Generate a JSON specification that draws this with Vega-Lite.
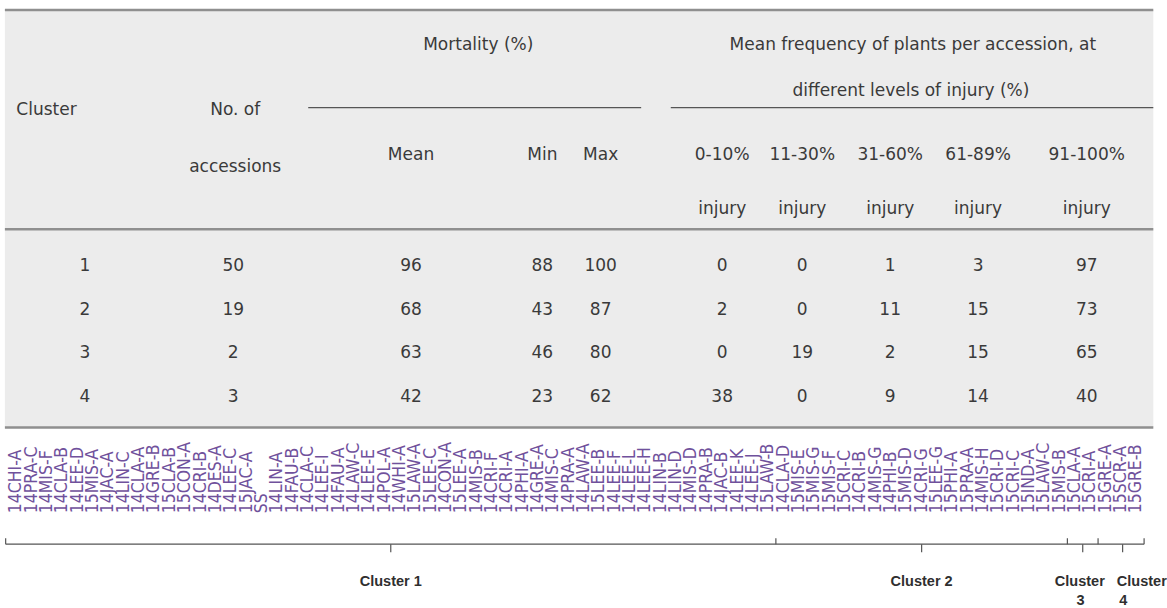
{
  "$schema": "https://vega.github.io/schema/vega-lite/v6.json",
  "width": 1167,
  "height": 608,
  "autosize": {"type": "fit", "contains": "padding"},
  "padding": 0,
  "background": "white",
  "config": {"view": {"stroke": null}, "text": {"font": "DejaVu Sans"}},
  "datasets": {
    "panel": [{"x": 0.25, "x2": 75.1, "y": 10, "y2": 429}],
    "thickRules": [
      {"x": 0.25, "x2": 75.1, "y": 10},
      {"x": 0.25, "x2": 75.1, "y": 230},
      {"x": 0.25, "x2": 75.1, "y": 429}
    ],
    "thinRules": [
      {"x": 20.02, "x2": 41.72, "y": 108},
      {"x": 43.65, "x2": 75.1, "y": 108}
    ],
    "headers": [
      {"text": "Mortality (%)", "x": 31.1, "y": 45},
      {"text": "Mean frequency of plants per accession, at", "x": 59.43, "y": 45},
      {"text": "different levels of injury (%)", "x": 59.3, "y": 91},
      {"text": "Cluster", "x": 2.96, "y": 110},
      {"text": "No. of", "x": 15.26, "y": 110},
      {"text": "accessions", "x": 15.26, "y": 168},
      {"text": "Mean", "x": 26.72, "y": 156},
      {"text": "Min", "x": 35.28, "y": 156},
      {"text": "Max", "x": 39.08, "y": 156},
      {"text": "0-10%", "x": 47.0, "y": 156},
      {"text": "11-30%", "x": 52.22, "y": 156},
      {"text": "31-60%", "x": 57.95, "y": 156},
      {"text": "61-89%", "x": 63.68, "y": 156},
      {"text": "91-100%", "x": 70.76, "y": 156},
      {"text": "injury", "x": 47.0, "y": 210},
      {"text": "injury", "x": 52.22, "y": 210},
      {"text": "injury", "x": 57.95, "y": 210},
      {"text": "injury", "x": 63.68, "y": 210},
      {"text": "injury", "x": 70.76, "y": 210}
    ],
    "clusters": [
      {"cluster": 1, "accessions": 50, "mean": 96, "min": 88, "max": 100, "p0_10": 0, "p11_30": 0, "p31_60": 1, "p61_89": 3, "p91_100": 97},
      {"cluster": 2, "accessions": 19, "mean": 68, "min": 43, "max": 87, "p0_10": 2, "p11_30": 0, "p31_60": 11, "p61_89": 15, "p91_100": 73},
      {"cluster": 3, "accessions": 2, "mean": 63, "min": 46, "max": 80, "p0_10": 0, "p11_30": 19, "p31_60": 2, "p61_89": 15, "p91_100": 65},
      {"cluster": 4, "accessions": 3, "mean": 42, "min": 23, "max": 62, "p0_10": 38, "p11_30": 0, "p31_60": 9, "p61_89": 14, "p91_100": 40}
    ],
    "accessions": [
      {"id": 1, "label": "14CHI-A", "cluster": 1}, {"id": 2, "label": "14PRA-C", "cluster": 1}, {"id": 3, "label": "14MIS-F", "cluster": 1}, {"id": 4, "label": "14CLA-B", "cluster": 1},
      {"id": 5, "label": "14LEE-D", "cluster": 1}, {"id": 6, "label": "15MIS-A", "cluster": 1}, {"id": 7, "label": "14JAC-A", "cluster": 1}, {"id": 8, "label": "14LIN-C", "cluster": 1},
      {"id": 9, "label": "14CLA-A", "cluster": 1}, {"id": 10, "label": "14GRE-B", "cluster": 1}, {"id": 11, "label": "15CLA-B", "cluster": 1}, {"id": 12, "label": "15CON-A", "cluster": 1},
      {"id": 13, "label": "14CRI-B", "cluster": 1}, {"id": 14, "label": "14DES-A", "cluster": 1}, {"id": 15, "label": "14LEE-C", "cluster": 1}, {"id": 16, "label": "15JAC-A", "cluster": 1},
      {"id": 17, "label": "SS", "cluster": 1}, {"id": 18, "label": "14LIN-A", "cluster": 1}, {"id": 19, "label": "14FAU-B", "cluster": 1}, {"id": 20, "label": "14CLA-C", "cluster": 1},
      {"id": 21, "label": "14LEE-I", "cluster": 1}, {"id": 22, "label": "14FAU-A", "cluster": 1}, {"id": 23, "label": "14LAW-C", "cluster": 1}, {"id": 24, "label": "14LEE-E", "cluster": 1},
      {"id": 25, "label": "14POL-A", "cluster": 1}, {"id": 26, "label": "14WHI-A", "cluster": 1}, {"id": 27, "label": "15LAW-A", "cluster": 1}, {"id": 28, "label": "15LEE-C", "cluster": 1},
      {"id": 29, "label": "14CON-A", "cluster": 1}, {"id": 30, "label": "15LEE-A", "cluster": 1}, {"id": 31, "label": "14MIS-B", "cluster": 1}, {"id": 32, "label": "14CRI-F", "cluster": 1},
      {"id": 33, "label": "14CRI-A", "cluster": 1}, {"id": 34, "label": "14PHI-A", "cluster": 1}, {"id": 35, "label": "14GRE-A", "cluster": 1}, {"id": 36, "label": "14MIS-C", "cluster": 1},
      {"id": 37, "label": "14PRA-A", "cluster": 1}, {"id": 38, "label": "14LAW-A", "cluster": 1}, {"id": 39, "label": "15LEE-B", "cluster": 1}, {"id": 40, "label": "14LEE-F", "cluster": 1},
      {"id": 41, "label": "14LEE-L", "cluster": 1}, {"id": 42, "label": "14LEE-H", "cluster": 1}, {"id": 43, "label": "14LIN-B", "cluster": 1}, {"id": 44, "label": "14LIN-D", "cluster": 1},
      {"id": 45, "label": "14MIS-D", "cluster": 1}, {"id": 46, "label": "14PRA-B", "cluster": 1}, {"id": 47, "label": "14JAC-B", "cluster": 1}, {"id": 48, "label": "14LEE-K", "cluster": 1},
      {"id": 49, "label": "14LEE-J", "cluster": 1}, {"id": 50, "label": "15LAW-B", "cluster": 1},
      {"id": 51, "label": "14CLA-D", "cluster": 2}, {"id": 52, "label": "15MIS-E", "cluster": 2}, {"id": 53, "label": "15MIS-G", "cluster": 2}, {"id": 54, "label": "15MIS-F", "cluster": 2},
      {"id": 55, "label": "15CRI-C", "cluster": 2}, {"id": 56, "label": "14CRI-B", "cluster": 2}, {"id": 57, "label": "14MIS-G", "cluster": 2}, {"id": 58, "label": "14PHI-B", "cluster": 2},
      {"id": 59, "label": "15MIS-D", "cluster": 2}, {"id": 60, "label": "14CRI-G", "cluster": 2}, {"id": 61, "label": "15LEE-G", "cluster": 2}, {"id": 62, "label": "15PHI-A", "cluster": 2},
      {"id": 63, "label": "15PRA-A", "cluster": 2}, {"id": 64, "label": "14MIS-H", "cluster": 2}, {"id": 65, "label": "15CRI-D", "cluster": 2}, {"id": 66, "label": "15CRI-C", "cluster": 2},
      {"id": 67, "label": "15IND-A", "cluster": 2}, {"id": 68, "label": "15LAW-C", "cluster": 2}, {"id": 69, "label": "15MIS-B", "cluster": 2},
      {"id": 70, "label": "15CLA-A", "cluster": 3}, {"id": 71, "label": "15CRI-A", "cluster": 3},
      {"id": 72, "label": "15GRE-A", "cluster": 4}, {"id": 73, "label": "15SCR-A", "cluster": 4}, {"id": 74, "label": "15GRE-B", "cluster": 4}
    ],
    "spans": [
      {"x": 0.3, "x2": 74.5, "y": 546, "y2": 546},
      {"x": 0.3, "x2": 0.3, "y": 540, "y2": 546},
      {"x": 50.5, "x2": 50.5, "y": 540, "y2": 546},
      {"x": 69.5, "x2": 69.5, "y": 540, "y2": 546},
      {"x": 71.5, "x2": 71.5, "y": 540, "y2": 546},
      {"x": 74.5, "x2": 74.5, "y": 540, "y2": 546},
      {"x": 25.4, "x2": 25.4, "y": 546, "y2": 554},
      {"x": 60, "x2": 60, "y": 546, "y2": 554},
      {"x": 70.5, "x2": 70.5, "y": 546, "y2": 554},
      {"x": 73.1, "x2": 73.1, "y": 546, "y2": 554}
    ],
    "clusterLabels": [
      {"text": "Cluster 1", "x": 25.4, "y": 584},
      {"text": "Cluster 2", "x": 60, "y": 584},
      {"text": "Cluster", "x": 70.31, "y": 584},
      {"text": "3", "x": 70.35, "y": 603},
      {"text": "Cluster", "x": 74.35, "y": 584},
      {"text": "4", "x": 73.15, "y": 603}
    ]
  },
  "encoding": {
    "x": {"type": "quantitative", "scale": {"domain": [-0.069, 75.08], "nice": false, "zero": false}, "axis": null},
    "y": {"type": "quantitative", "scale": {"domain": [0, 608], "nice": false, "zero": false, "reverse": true}, "axis": null}
  },
  "layer": [
    {
      "data": {"name": "panel"},
      "mark": {"type": "rect", "color": "#ececec"},
      "encoding": {
        "x": {"field": "x", "type": "quantitative"},
        "x2": {"field": "x2"},
        "y": {"field": "y", "type": "quantitative"},
        "y2": {"field": "y2"}
      }
    },
    {
      "data": {"name": "thickRules"},
      "mark": {"type": "rule", "color": "#8f8f8f", "strokeWidth": 2.5},
      "encoding": {
        "x": {"field": "x", "type": "quantitative"},
        "x2": {"field": "x2"},
        "y": {"field": "y", "type": "quantitative"}
      }
    },
    {
      "data": {"name": "thinRules"},
      "mark": {"type": "rule", "color": "#555555", "strokeWidth": 1.2},
      "encoding": {
        "x": {"field": "x", "type": "quantitative"},
        "x2": {"field": "x2"},
        "y": {"field": "y", "type": "quantitative"}
      }
    },
    {
      "data": {"name": "headers"},
      "mark": {"type": "text", "fontSize": 17, "color": "#3a3a3a", "align": "center", "baseline": "middle"},
      "encoding": {
        "x": {"field": "x", "type": "quantitative"},
        "y": {"field": "y", "type": "quantitative"},
        "text": {"field": "text", "type": "nominal"}
      }
    },
    {
      "data": {"name": "clusters"},
      "transform": [
        {"fold": ["cluster", "accessions", "mean", "min", "max", "p0_10", "p11_30", "p31_60", "p61_89", "p91_100"], "as": ["key", "value"]},
        {"lookup": "key", "from": {"data": {"values": [
          {"key": "cluster", "cx": 5.47},
          {"key": "accessions", "cx": 15.13},
          {"key": "mean", "cx": 26.72},
          {"key": "min", "cx": 35.28},
          {"key": "max", "cx": 39.08},
          {"key": "p0_10", "cx": 47.0},
          {"key": "p11_30", "cx": 52.22},
          {"key": "p31_60", "cx": 57.95},
          {"key": "p61_89", "cx": 63.68},
          {"key": "p91_100", "cx": 70.76}
        ]}, "key": "key", "fields": ["cx"]}},
        {"lookup": "cluster", "from": {"data": {"values": [
          {"row": 1, "cy": 267},
          {"row": 2, "cy": 311},
          {"row": 3, "cy": 354},
          {"row": 4, "cy": 398}
        ]}, "key": "row", "fields": ["cy"]}}
      ],
      "mark": {"type": "text", "fontSize": 17, "color": "#3a3a3a", "align": "center", "baseline": "middle"},
      "encoding": {
        "x": {"field": "cx", "type": "quantitative"},
        "y": {"field": "cy", "type": "quantitative"},
        "text": {"field": "value", "type": "nominal"}
      }
    },
    {
      "data": {"name": "accessions"},
      "mark": {"type": "text", "font": "DejaVu Sans Condensed", "fontSize": 17.5, "color": "#70519c", "angle": 270, "align": "left", "baseline": "middle"},
      "encoding": {
        "x": {"field": "id", "type": "quantitative"},
        "y": {"datum": 515, "type": "quantitative"},
        "text": {"field": "label", "type": "nominal"}
      }
    },
    {
      "data": {"name": "spans"},
      "mark": {"type": "rule", "color": "#555555", "strokeWidth": 1.2},
      "encoding": {
        "x": {"field": "x", "type": "quantitative"},
        "x2": {"field": "x2"},
        "y": {"field": "y", "type": "quantitative"},
        "y2": {"field": "y2"}
      }
    },
    {
      "data": {"name": "clusterLabels"},
      "mark": {"type": "text", "font": "Liberation Sans", "fontSize": 14.5, "fontWeight": "bold", "color": "#2f2f2f", "align": "center", "baseline": "middle"},
      "encoding": {
        "x": {"field": "x", "type": "quantitative"},
        "y": {"field": "y", "type": "quantitative"},
        "text": {"field": "text", "type": "nominal"}
      }
    }
  ]
}
